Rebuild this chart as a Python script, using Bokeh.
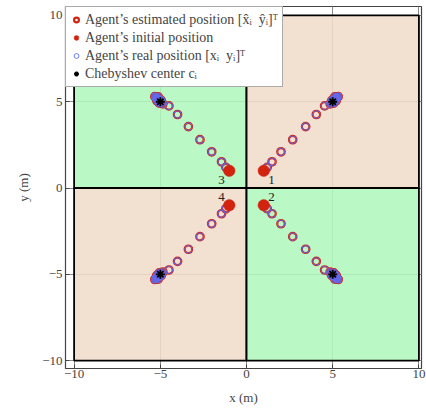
from bokeh.plotting import figure
from bokeh.models import ColumnDataSource, Legend, LegendItem, FixedTicker, Range1d
from bokeh.core.properties import value
from bokeh.embed import file_html
from bokeh.resources import INLINE

# ---- regions (partition cells) ----
reg_x0 = [-10, 0, -10, 0]
reg_x1 = [0, 10, 0, 10]
reg_y0 = [0, 0, -10, -10]
reg_y1 = [10, 10, 0, 0]
reg_color = ["#b0f8bd", "#f0dccb", "#f0dccb", "#b0f8bd"]

# ---- agents ----
agent_ids = ["1", "2", "3", "4"]
init_x = [1.0, 1.0, -1.0, -1.0]
init_y = [1.0, -1.0, 1.0, -1.0]
label_x = [1.45, 1.45, -1.45, -1.45]
label_y = [0.46, -0.52, 0.48, -0.50]
cheb_x = [5.0, 5.0, -5.0, -5.0]
cheb_y = [5.0, -5.0, 5.0, -5.0]

# estimated positions of each agent (trajectory + final cluster)
est_x_1 = [1.2, 1.48, 2.0, 2.68, 3.43, 4.05, 4.53, 4.85, 4.92, 4.98, 5.03, 5.06, 5.1, 5.14, 5.17, 5.2, 5.24, 5.28, 5.32, 5.0, 5.12, 5.22, 5.06, 4.95, 5.2, 5.12]
est_y_1 = [1.2, 1.52, 2.1, 2.8, 3.56, 4.26, 4.76, 4.88, 4.95, 5.0, 4.98, 5.08, 5.1, 5.12, 5.2, 5.17, 5.24, 5.27, 5.3, 5.06, 5.16, 5.2, 4.92, 5.08, 5.06, 5.28]
est_x_2 = [1.2, 1.48, 2.0, 2.68, 3.43, 4.05, 4.53, 4.85, 4.92, 4.98, 5.03, 5.06, 5.1, 5.14, 5.17, 5.2, 5.24, 5.28, 5.32, 5.0, 5.12, 5.22, 5.06, 4.95, 5.2, 5.12]
est_y_2 = [-1.2, -1.49, -2.07, -2.82, -3.55, -4.25, -4.75, -4.88, -4.95, -5.0, -4.98, -5.08, -5.1, -5.12, -5.2, -5.17, -5.24, -5.27, -5.3, -5.06, -5.16, -5.2, -4.92, -5.08, -5.06, -5.28]
est_x_3 = [-1.2, -1.45, -2.02, -2.7, -3.37, -4.0, -4.5, -4.85, -4.92, -4.98, -5.03, -5.06, -5.1, -5.14, -5.17, -5.2, -5.24, -5.28, -5.32, -5.0, -5.12, -5.22, -5.06, -4.95, -5.2, -5.12]
est_y_3 = [1.2, 1.52, 2.1, 2.8, 3.56, 4.26, 4.76, 4.88, 4.95, 5.0, 4.98, 5.08, 5.1, 5.12, 5.2, 5.17, 5.24, 5.27, 5.3, 5.06, 5.16, 5.2, 4.92, 5.08, 5.06, 5.28]
est_x_4 = [-1.2, -1.45, -2.02, -2.7, -3.37, -4.0, -4.5, -4.85, -4.92, -4.98, -5.03, -5.06, -5.1, -5.14, -5.17, -5.2, -5.24, -5.28, -5.32, -5.0, -5.12, -5.22, -5.06, -4.95, -5.2, -5.12]
est_y_4 = [-1.2, -1.49, -2.07, -2.82, -3.55, -4.25, -4.75, -4.88, -4.95, -5.0, -4.98, -5.08, -5.1, -5.12, -5.2, -5.17, -5.24, -5.27, -5.3, -5.06, -5.16, -5.2, -4.92, -5.08, -5.06, -5.28]

tick_vals = [-10, -5, 0, 5, 10]
tick_labels = ["\u221210", "\u22125", "0", "5", "10"]

FONT = "Liberation Serif"
RED = "#d2230f"
BLUE = "#5c6cf6"

p = figure(frame_width=356, frame_height=362, output_backend="svg", toolbar_location=None,
           x_range=Range1d(-10.5, 10.15), y_range=Range1d(-10.46, 10.52),
           min_border_left=65, min_border_right=5, min_border_top=6, min_border_bottom=42)
p.background_fill_color = "white"
p.border_fill_color = "white"
p.outline_line_color = "#444444"
p.outline_line_width = 1.2

for ax, lab in ((p.xaxis[0], "x (m)"), (p.yaxis[0], "y (m)")):
    ax.ticker = FixedTicker(ticks=tick_vals)
    ax.major_label_overrides = {v: t for v, t in zip(tick_vals, tick_labels)}
    ax.axis_label = lab
    ax.axis_label_text_font = FONT
    ax.axis_label_text_font_size = "13px"
    ax.axis_label_text_font_style = "normal"
    ax.major_label_text_font = FONT
    ax.major_label_text_font_size = "13px"
    ax.major_tick_in = 4
    ax.major_tick_out = 0
    ax.minor_tick_in = 0
    ax.minor_tick_out = 0
    ax.axis_line_color = "#444444"
    ax.major_tick_line_color = "#444444"
p.xaxis.major_label_standoff = 1
p.yaxis.major_label_standoff = 3
p.xaxis.axis_label_standoff = 9
p.yaxis.axis_label_standoff = 8

p.xgrid.ticker = FixedTicker(ticks=tick_vals)
p.ygrid.ticker = FixedTicker(ticks=tick_vals)
p.grid.grid_line_color = "#8a8a8a"
p.grid.grid_line_width = 1

# regions (slightly transparent so grid shows through)
p.quad(left=reg_x0, right=reg_x1, bottom=reg_y0, top=reg_y1,
       fill_color=reg_color, fill_alpha=0.88, line_color="black", line_width=1.8)

est_x = est_x_1 + est_x_2 + est_x_3 + est_x_4
est_y = est_y_1 + est_y_2 + est_y_3 + est_y_4
src = ColumnDataSource(dict(x=est_x, y=est_y))

r_est = p.scatter("x", "y", source=src, marker="circle", size=7.5,
                  fill_color=None, line_color=RED, line_width=2.2)
r_real = p.scatter("x", "y", source=src, marker="circle", size=7.5,
                   fill_color=None, line_color=BLUE, line_width=0.9)
r_init = p.scatter(init_x, init_y, marker="circle", size=11.5,
                   fill_color=RED, line_color=RED, line_width=0.5)
r_cheb = p.scatter(cheb_x, cheb_y, marker="asterisk", size=9,
                   line_color="black", line_width=1.8)

p.text(x=label_x, y=label_y, text=agent_ids, text_font=value(FONT),
       text_font_size="13px", text_align="center", text_baseline="middle",
       text_color="#222222")

# legend-only symbol for the real position (thin blue ring)
leg_real = p.scatter([100], [100], marker="circle", size=8, fill_color=None,
                     line_color="#6f7cff", line_width=1.0)

legend = Legend(items=[
    LegendItem(label="Agent\u2019s estimated position [x\u0302\u1d62  y\u0302\u1d62]\u1d40", renderers=[r_est]),
    LegendItem(label="Agent\u2019s initial position", renderers=[r_init]),
    LegendItem(label="Agent\u2019s real position [x\u1d62  y\u1d62]\u1d40", renderers=[leg_real]),
    LegendItem(label="Chebyshev center c\u1d62", renderers=[r_cheb]),
], location="top_left")
legend.margin = 0
legend.padding = 4
legend.spacing = 1
legend.glyph_width = 12
legend.glyph_height = 17
legend.label_height = 17
legend.label_standoff = 3
legend.label_text_font = FONT
legend.label_text_font_size = "14px"
legend.border_line_color = "#555555"
legend.border_line_width = 1
legend.background_fill_alpha = 1.0
p.add_layout(legend)

open("out.html", "w").write(file_html(p, INLINE))
